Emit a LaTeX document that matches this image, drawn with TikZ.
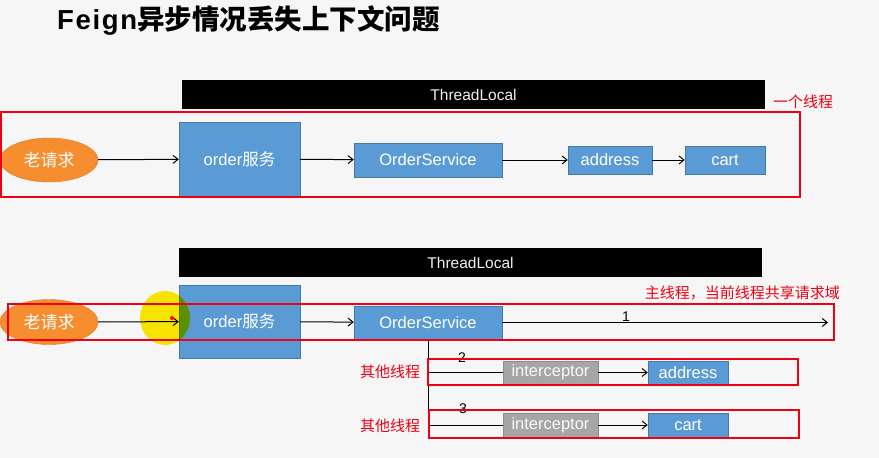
\documentclass[tikz,border=0pt]{standalone}
\usepackage{fontspec}
\setmainfont{Liberation Sans}
\newfontfamily\cjk{Noto Sans CJK SC}
\usepackage{tikz}
\usetikzlibrary{shapes.geometric, arrows, arrows.meta, positioning, calc}
\definecolor{svc-blue}{RGB}{91,155,213}
\definecolor{svc-edge}{RGB}{70,120,170}
\definecolor{req-orange}{RGB}{246,142,48}
\definecolor{req-edge}{RGB}{220,120,40}
\definecolor{icp-gray}{RGB}{166,166,166}
\definecolor{frame-red}{RGB}{240,0,20}
\definecolor{page-bg}{RGB}{246,246,246}

\begin{document}
\begin{tikzpicture}[
    x=1pt, y=-1pt,
    svc/.style={rectangle, draw=svc-edge, fill=svc-blue, text=white, inner sep=0pt, font=\fontsize{16.5}{18}\selectfont},
    req/.style={ellipse, draw=req-edge, fill=req-orange, text=white, inner sep=0pt, minimum width=98pt, minimum height=44pt, font=\cjk\fontsize{17}{19}\selectfont},
    icp/.style={rectangle, draw=icp-gray!85!black, fill=icp-gray, text=white!95!gray, inner sep=0pt, minimum width=95pt, font=\fontsize{16.5}{18}\selectfont},
    tlbar/.style={rectangle, fill=black, text=white!88!gray, inner sep=0pt, minimum width=583pt, minimum height=29pt, font=\fontsize{15.5}{17}\selectfont},
    frame/.style={draw=frame-red, line width=2pt},
    note/.style={text=frame-red, inner sep=0pt, font=\cjk\fontsize{15}{17}\selectfont},
    arrow/.style={->, >={Straight Barb[length=5pt, width=8pt]}, line width=1pt}
]
\useasboundingbox (0,0) rectangle (879,458);
\fill[page-bg] (0,0) rectangle (879,458);

% title
\node[anchor=west, inner sep=0pt, font=\bfseries\fontsize{27.5}{30}\selectfont] (title) at (57,20) {{\addfontfeature{LetterSpace=6}Feign}{\cjk\bfseries 异步情况丢失上下文问题}};

% one thread
\node[tlbar] (tl1) at (473.5,94.5) {ThreadLocal};
\node[req] (req1) at (49,160) {老请求};
\node[svc, minimum width=121pt, minimum height=74pt] (svc1) at (239.5,159) {order{\cjk 服务}};
\node[svc, minimum width=148pt, minimum height=34pt] (os1) at (428,160) {OrderService};
\node[svc, minimum width=84pt, minimum height=28pt] (addr1) at (610,160) {address};
\node[svc, minimum width=80pt, minimum height=28pt] (cart1) at (725,160) {cart};

\draw[arrow] (req1) -- (svc1);
\draw[arrow] (svc1) -- (os1);
\draw[arrow] (os1) -- (addr1);
\draw[arrow] (addr1) -- (cart1);

\draw[frame] (1,112) rectangle (800,197);
\node[note, anchor=west] (one) at (773,102) {一个线程};

% async case
\node[tlbar] (tl2) at (470.5,262.5) {ThreadLocal};
\node[req, minimum height=45pt] (req2) at (49,322) {老请求};
\node[svc, minimum width=121pt, minimum height=73pt] (svc2) at (239.5,321.5) {order{\cjk 服务}};
\node[svc, minimum width=148pt, minimum height=33pt] (os2) at (428,322.5) {OrderService};
\coordinate (end1) at (828,322.5);

\node[icp, minimum height=23pt] (icp2) at (550.5,372.5) {interceptor};
\node[svc, minimum width=80pt, minimum height=23pt] (addr2) at (688,372.5) {address};
\node[icp, minimum height=24pt] (icp3) at (550.5,425) {interceptor};
\node[svc, minimum width=80pt, minimum height=24pt] (cart2) at (688,425) {cart};

\draw[arrow] (req2) -- (svc2);
\draw[arrow] (svc2) -- (os2);
\draw[arrow] (os2) -- (end1) node[pos=0.38, above, inner sep=1pt, font=\fontsize{14}{16}\selectfont] {1};
\draw[line width=1pt] (os2.south) |- (icp2.west);
\draw[line width=1pt] (os2.south) |- (icp3.west);
\draw[arrow] (icp2) -- (addr2);
\draw[arrow] (icp3) -- (cart2);
\node[font=\fontsize{14}{16}\selectfont] (n2) at (462,358) {2};
\node[font=\fontsize{14}{16}\selectfont] (n3) at (463,409) {3};

% cursor highlight
\begin{scope}[blend mode=multiply]
\fill[yellow!95!orange] (165,318) ellipse (25 and 27);
\end{scope}
\fill[red] (172,318) circle (2);

\draw[frame] (8,304) rectangle (834,340);
\draw[frame] (428,359) rectangle (798,385);
\draw[frame] (429,410) rectangle (799,438);
\node[note, anchor=east] (main) at (840,293) {主线程，当前线程共享请求域};
\node[note] (other2) at (390,372) {其他线程};
\node[note] (other3) at (390,426) {其他线程};

\end{tikzpicture}
\end{document}
